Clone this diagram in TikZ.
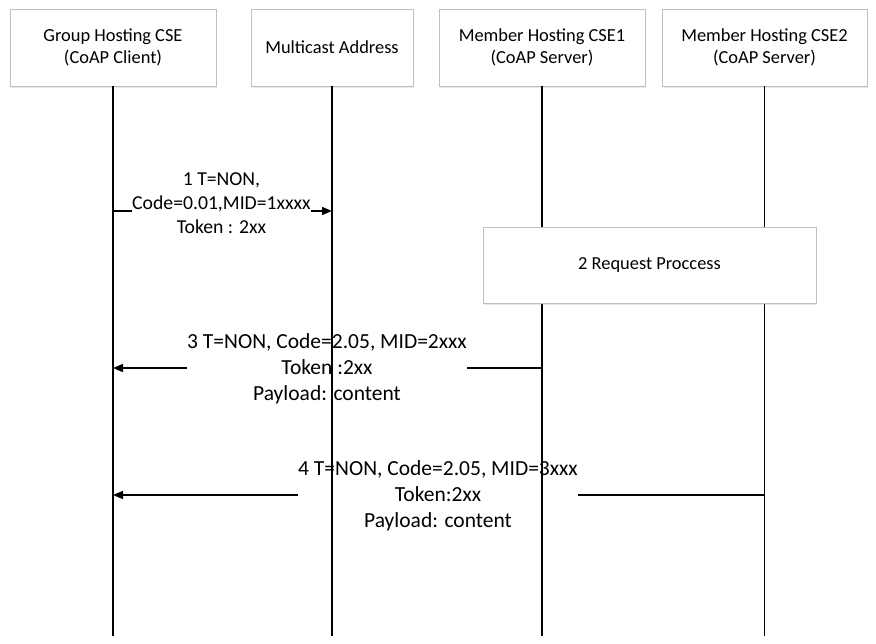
\documentclass[tikz,border=0pt]{standalone}
\usepackage{fontspec}
\setmainfont{Carlito}
\usetikzlibrary{arrows.meta,shadows}
\begin{document}
\begin{tikzpicture}[x=1pt,y=-1pt,
  actor/.style={draw=black!25, fill=white, line width=0.8pt, minimum height=77pt, align=center,
    font=\fontsize{18.4}{22.4}\selectfont,
    drop shadow={shadow xshift=1pt, shadow yshift=-1.5pt, opacity=0.18}},
  life/.style={line width=1.5pt, black},
  msg/.style={line width=1.4pt, -{Triangle[length=10pt,width=8pt]}},
  lbl/.style={fill=white, inner xsep=0.5pt, inner ysep=1pt, align=center},
  lblA/.style={lbl, font=\fontsize{19.7}{24}\selectfont},
  lblB/.style={lbl, font=\fontsize{21.5}{26}\selectfont}]
\useasboundingbox (0,0) rectangle (876,643);
% participants
\node[actor, minimum width=206pt] (p1) at (113,47.5) {Group Hosting CSE\\(CoAP Client)};
\node[actor, minimum width=162pt] (p2) at (332,47.5) {Multicast Address};
\node[actor, minimum width=206pt] (p3) at (542,47.5) {Member Hosting CSE1\\(CoAP Server)};
\node[actor, minimum width=205pt] (p4) at (764.5,47.5) {Member Hosting CSE2\\(CoAP Server)};
\coordinate (bot) at (0,636);
\coordinate (y1) at (0,211);
\coordinate (y3) at (0,368);
\coordinate (y4) at (0,495);
% messages
\draw[msg] (p1 |- y1) -- (p2 |- y1);
\node[lblA] (t1) at (221.5,203) {1 T=NON,\\Code=0.01,MID=1xxxx\\Token : 2xx};
\draw[msg] (p3 |- y3) -- (p1 |- y3);
\node[lblB] (t3) at (327,368.5) {3 T=NON, Code=2.05, MID=2xxx\\Token :2xx\\Payload: content};
\draw[msg] (p4 |- y4) -- (p1 |- y4);
\node[lblB] (t4) at (438,495.5) {4 T=NON, Code=2.05, MID=3xxx\\Token:2xx\\Payload: content};
% lifelines
\foreach \p in {p1,p2,p3,p4}{
  \draw[life] (\p.south) -- (\p.south |- bot);
}
% process box
\node[actor, minimum width=333pt, minimum height=76pt] (proc) at (649.5,265) {2 Request Proccess};
\end{tikzpicture}
\end{document}
